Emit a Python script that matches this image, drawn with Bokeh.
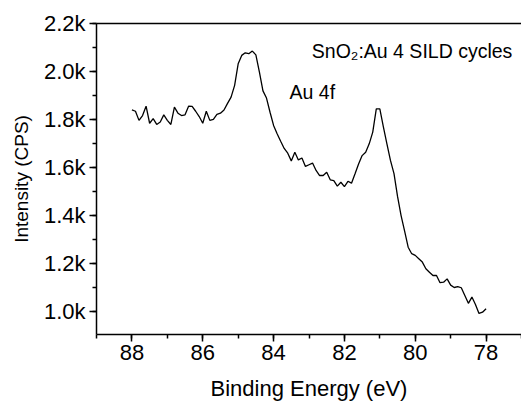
from bokeh.plotting import figure
from bokeh.models import Range1d, LinearAxis, FixedTicker, Label
from bokeh.embed import file_html
from bokeh.resources import INLINE

# Binding energy (eV) and intensity (CPS)
energy = [88.0, 87.9, 87.8, 87.7, 87.6, 87.5, 87.4, 87.3, 87.2, 87.1,
          87.0, 86.9, 86.8, 86.7, 86.6, 86.5, 86.4, 86.3, 86.2, 86.1,
          86.0, 85.9, 85.8, 85.7, 85.6, 85.5, 85.4, 85.3, 85.2, 85.1,
          85.0, 84.9, 84.8, 84.7, 84.6, 84.5, 84.4, 84.3, 84.2, 84.1,
          84.0, 83.9, 83.8, 83.7, 83.6, 83.5, 83.4, 83.3, 83.2, 83.1,
          83.0, 82.9, 82.8, 82.7, 82.6, 82.5, 82.4, 82.3, 82.2, 82.1,
          82.0, 81.9, 81.8, 81.7, 81.6, 81.5, 81.4, 81.3, 81.2, 81.1,
          81.0, 80.9, 80.8, 80.7, 80.6, 80.5, 80.4, 80.3, 80.2, 80.1,
          80.0, 79.9, 79.8, 79.7, 79.6, 79.5, 79.4, 79.3, 79.2, 79.1,
          79.0, 78.9, 78.8, 78.7, 78.6, 78.5, 78.4, 78.3, 78.2, 78.1,
          78.0]
intensity = [1841, 1835, 1797, 1817, 1856, 1785, 1804, 1780, 1790, 1820,
             1797, 1780, 1852, 1827, 1817, 1820, 1856, 1855, 1835, 1813,
             1785, 1835, 1797, 1801, 1822, 1827, 1840, 1868, 1894, 1943,
             2033, 2068, 2079, 2075, 2086, 2070, 1998, 1920, 1890, 1831,
             1776, 1741, 1710, 1680, 1660, 1628, 1664, 1632, 1640, 1605,
             1612, 1619, 1588, 1567, 1567, 1581, 1549, 1546, 1523, 1539,
             1521, 1543, 1535, 1574, 1615, 1650, 1664, 1699, 1748, 1845,
             1845, 1770, 1699, 1630, 1575, 1480, 1400, 1335, 1268, 1241,
             1234, 1220, 1206, 1178, 1164, 1150, 1150, 1120, 1122, 1136,
             1110, 1100, 1104, 1099, 1067, 1034, 1060, 1029, 992, 997,
             1011]

x_major = [78, 80, 82, 84, 86, 88]
x_minor = [77, 78, 79, 80, 81, 82, 83, 84, 85, 86, 87, 88, 89]
y_major = [1000, 1200, 1400, 1600, 1800, 2000, 2200]
y_labels = ["1.0k", "1.2k", "1.4k", "1.6k", "1.8k", "2.0k", "2.2k"]
y_minor = [900, 1000, 1100, 1200, 1300, 1400, 1500, 1600, 1700, 1800,
           1900, 2000, 2100, 2200]

FONT = "Liberation Sans"

p = figure(width=521, height=404, output_backend="svg", toolbar_location=None,
           x_range=Range1d(89.0, 77.0), y_range=Range1d(904, 2201),
           x_axis_location=None, y_axis_location=None,
           min_border_left=96, min_border_right=0,
           min_border_top=23, min_border_bottom=70)
p.outline_line_color = None
p.grid.visible = False
p.background_fill_color = "white"
p.border_fill_color = "white"

p.line(energy, intensity, line_color="black", line_width=1.3)

xax = LinearAxis(ticker=FixedTicker(ticks=x_major, minor_ticks=x_minor),
                 axis_label="Binding Energy (eV)")
yax = LinearAxis(ticker=FixedTicker(ticks=y_major, minor_ticks=y_minor),
                 axis_label="Intensity (CPS)")
yax.major_label_overrides = {v: s for v, s in zip(y_major, y_labels)}
for ax in (xax, yax):
    ax.axis_line_color = "black"
    ax.axis_line_width = 1.5
    ax.major_tick_line_color = "black"
    ax.major_tick_line_width = 1.5
    ax.minor_tick_line_color = "black"
    ax.minor_tick_line_width = 1.5
    ax.major_tick_in = 0
    ax.major_tick_out = 7
    ax.minor_tick_in = 0
    ax.minor_tick_out = 4
    ax.major_label_text_font = FONT
    ax.major_label_text_font_size = "22px"
    ax.major_label_text_color = "black"
    ax.axis_label_text_font = FONT
    ax.axis_label_text_font_style = "normal"
    ax.axis_label_text_color = "black"
xax.axis_label_text_font_size = "22px"
yax.axis_label_text_font_size = "19px"
xax.major_label_standoff = 3
xax.axis_label_standoff = 13
yax.major_label_standoff = 4
yax.axis_label_standoff = 9
yax.major_label_orientation = "horizontal"

top = LinearAxis(ticker=FixedTicker(ticks=x_major, minor_ticks=[]))
top.axis_line_color = "black"
top.axis_line_width = 1.5
top.major_tick_in = 0
top.major_tick_out = 0
top.minor_tick_in = 0
top.minor_tick_out = 0
top.major_label_text_font_size = "0px"
top.major_label_text_color = None

p.add_layout(xax, "below")
p.add_layout(yax, "left")
p.add_layout(top, "above")

p.add_layout(Label(x=82.92, y=2086, text="SnO\u2082:Au 4 SILD cycles",
                   text_font=FONT, text_font_size="19.5px", text_color="black",
                   text_baseline="alphabetic", text_align="left"))
p.add_layout(Label(x=83.55, y=1915, text="Au 4f",
                   text_font=FONT, text_font_size="19.5px", text_color="black",
                   text_baseline="alphabetic", text_align="left"))

open("out.html", "w").write(file_html(p, INLINE))
